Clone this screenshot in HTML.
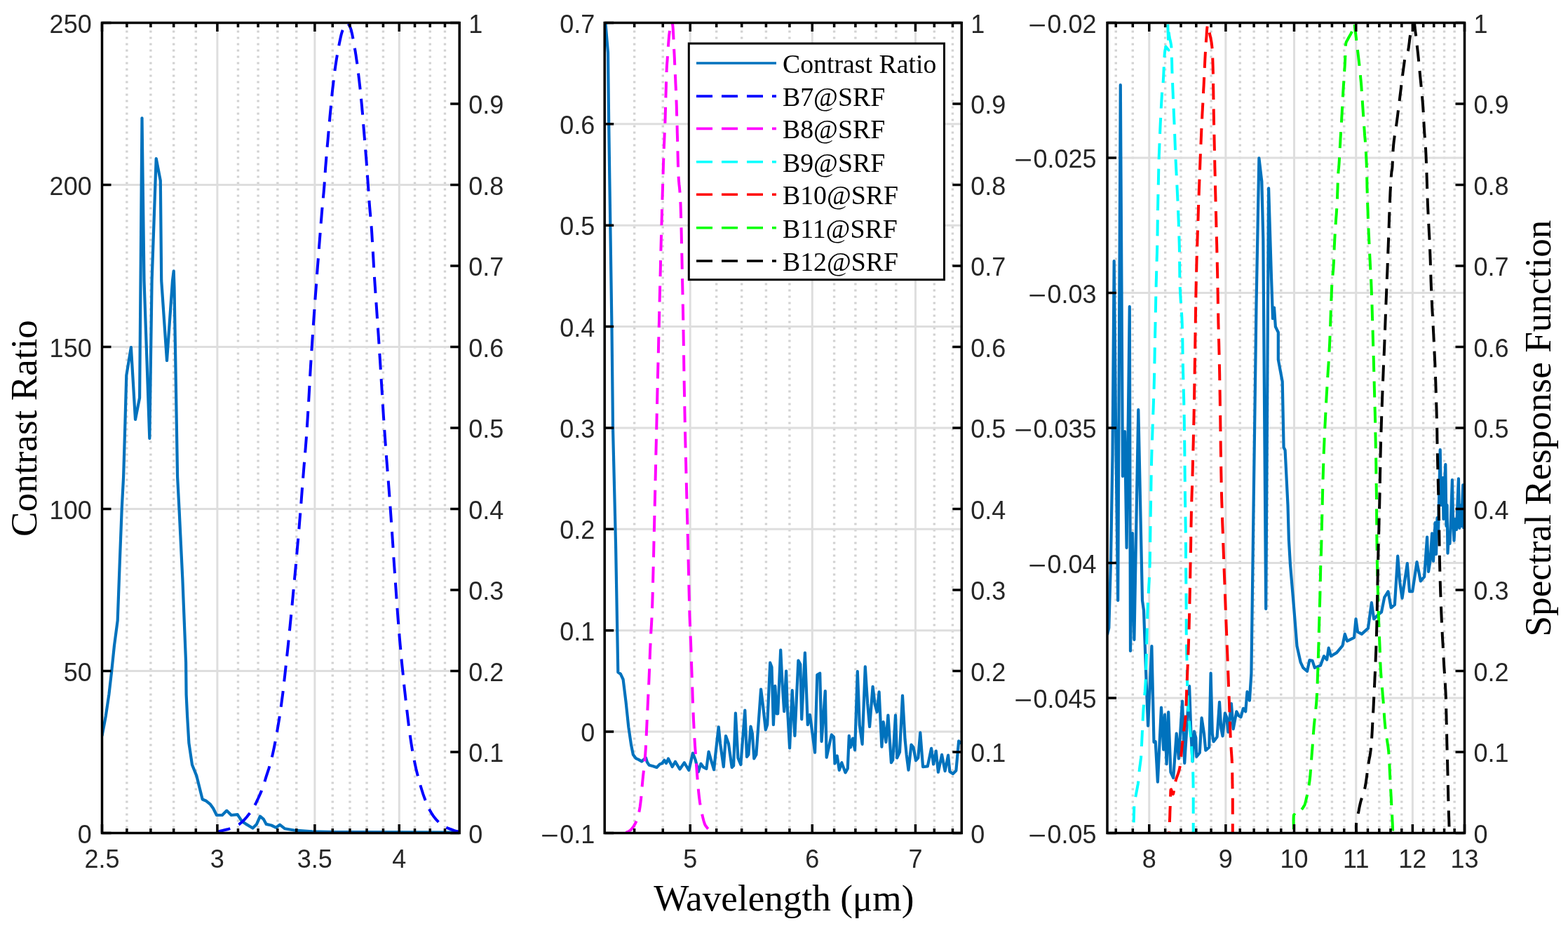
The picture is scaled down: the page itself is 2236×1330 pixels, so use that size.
<!DOCTYPE html>
<html><head><meta charset="utf-8"><title>Contrast Ratio and SRF</title>
<style>html,body{margin:0;padding:0;background:#fff;} body{width:2236px;height:1330px;overflow:hidden;} svg{display:block;}</style>
</head><body>
<svg width="2236" height="1330" viewBox="0 0 2236 1330">
<rect width="100%" height="100%" fill="#fff"/>
<path d="M180.86 32.50V1187.50M214.89 32.50V1187.50M247.68 32.50V1187.50M279.32 32.50V1187.50M339.45 32.50V1187.50M368.07 32.50V1187.50M395.82 32.50V1187.50M422.74 32.50V1187.50M474.27 32.50V1187.50M498.97 32.50V1187.50M523.02 32.50V1187.50M546.44 32.50V1187.50M591.53 32.50V1187.50M613.26 32.50V1187.50M634.47 32.50V1187.50" stroke="#d2d2d2" stroke-width="3.4" stroke-dasharray="3 6" stroke-dashoffset="6.9" fill="none"/>
<path d="M309.89 32.50V1187.50M448.87 32.50V1187.50M569.27 32.50V1187.50M145.50 956.50H655.20M145.50 725.50H655.20M145.50 494.50H655.20M145.50 263.50H655.20" stroke="#dedede" stroke-width="3" fill="none"/>
<clipPath id="cp0"><rect x="145.50" y="32.50" width="509.70" height="1155.00"/></clipPath>
<g id="curves0" fill="none" stroke-linejoin="round" clip-path="url(#cp0)">
<path d="M145.5 1049.0 L150.8 1020.8 L155.4 990.0 L159.2 956.7 L163.0 920.0 L167.7 884.5 L170.8 800.3 L173.7 725.7 L176.1 680.0 L178.5 600.0 L180.3 535.0 L186.9 495.0 L193.0 598.0 L199.1 567.0 L202.5 168.3 L205.5 400.0 L213.3 625.0 L216.6 400.0 L222.7 226.0 L228.8 257.5 L230.2 400.0 L238.0 514.0 L246.0 400.0 L247.7 386.3 L248.5 410.0 L253.1 680.0 L255.5 725.7 L260.3 824.4 L265.1 944.7 L265.6 990.0 L267.1 1020.8 L269.4 1059.3 L274.0 1090.2 L280.2 1105.6 L288.7 1139.5 L294.1 1141.8 L300.0 1146.7 L304.0 1152.3 L308.9 1162.0 L316.9 1162.0 L323.3 1155.6 L329.8 1162.0 L338.6 1161.2 L345.1 1170.9 L349.9 1174.1 L360.4 1180.5 L366.0 1174.9 L370.9 1163.6 L375.7 1167.6 L379.7 1174.9 L387.0 1176.5 L393.4 1179.7 L399.0 1175.7 L406.3 1181.3 L420.8 1183.7 L444.9 1185.3 L480.0 1186.1 L655.0 1186.6" stroke="#0072bd" stroke-width="4.2"/>
<path d="M310.5 1185.5 L312.9 1185.0 L316.2 1184.2 L320.1 1183.3 L324.2 1182.3 L328.1 1181.2 L331.4 1180.1 L334.1 1179.0 L336.5 1177.8 L338.8 1176.5 L340.9 1175.1 L342.9 1173.5 L345.1 1171.7 L347.4 1169.6 L349.7 1167.1 L352.0 1164.5 L354.1 1161.8 L356.2 1159.2 L358.0 1156.8 L359.5 1154.7 L360.8 1152.7 L361.9 1150.8 L362.9 1148.9 L364.0 1146.8 L365.2 1144.3 L366.6 1141.3 L368.2 1138.0 L369.8 1134.5 L371.4 1130.9 L372.8 1127.6 L374.0 1124.6 L374.9 1122.4 L375.5 1120.8 L375.9 1119.5 L376.4 1117.8 L377.1 1115.5 L378.1 1112.0 L379.5 1107.4 L381.2 1102.1 L383.2 1096.1 L385.2 1089.4 L387.2 1082.0 L389.1 1073.9 L391.0 1065.0 L392.9 1055.3 L394.8 1045.0 L396.6 1034.1 L398.5 1022.8 L400.2 1011.3 L401.8 999.6 L403.4 987.5 L404.8 975.0 L406.3 962.1 L407.7 948.9 L409.2 935.3 L410.7 921.2 L412.2 906.5 L413.7 891.4 L415.2 876.2 L416.7 861.0 L418.1 845.9 L419.5 830.7 L421.0 815.3 L422.4 799.8 L423.7 784.6 L425.0 770.1 L426.2 756.5 L427.2 744.2 L428.1 732.9 L429.0 722.3 L429.8 711.9 L430.6 701.0 L431.5 689.4 L432.5 677.1 L433.5 664.7 L434.6 651.9 L435.7 638.7 L436.8 624.7 L437.8 610.0 L438.8 594.0 L439.9 576.7 L440.9 558.7 L441.9 540.7 L442.9 523.4 L443.9 507.2 L444.9 492.5 L445.8 478.7 L446.7 465.6 L447.6 452.6 L448.5 439.6 L449.5 426.0 L450.6 411.4 L451.7 395.8 L452.9 380.1 L454.1 365.1 L455.1 351.5 L456.0 340.0 L456.7 331.2 L457.2 324.5 L457.6 319.2 L458.0 314.6 L458.4 309.9 L458.8 304.6 L459.3 298.6 L459.9 292.6 L460.5 286.6 L461.0 280.6 L461.6 274.5 L462.1 268.5 L462.6 262.5 L463.0 256.5 L463.4 250.5 L463.8 244.5 L464.2 238.5 L464.7 232.5 L465.2 226.5 L465.7 220.5 L466.2 214.5 L466.7 208.5 L467.3 202.4 L467.8 196.4 L468.3 190.3 L468.9 184.2 L469.4 178.1 L470.0 171.9 L470.5 165.8 L471.1 159.7 L471.7 153.6 L472.2 147.6 L472.8 141.6 L473.4 135.6 L474.0 129.6 L474.7 123.6 L475.4 117.6 L476.1 111.7 L476.8 105.8 L477.6 99.9 L478.4 94.0 L479.3 88.0 L480.3 81.8 L481.4 75.2 L482.6 68.7 L483.8 62.4 L485.0 56.7 L486.0 52.0 L486.9 48.3 L487.8 45.4 L488.7 43.0 L489.5 41.2 L490.3 39.5 L491.0 38.0 L491.7 36.6 L492.4 35.4 L493.0 34.5 L493.6 33.8 L494.2 33.4 L494.8 33.2 L495.4 33.2 L496.1 33.6 L496.7 34.1 L497.3 34.9 L497.9 35.9 L498.5 37.0 L499.1 38.2 L499.6 39.4 L500.1 40.8 L500.7 42.6 L501.3 45.0 L502.0 48.0 L502.8 51.9 L503.7 56.5 L504.7 61.7 L505.6 67.2 L506.6 72.9 L507.5 78.5 L508.3 84.2 L509.2 90.1 L510.0 96.2 L510.7 102.3 L511.5 108.5 L512.2 114.6 L512.9 120.7 L513.6 126.7 L514.2 132.8 L514.8 138.9 L515.4 144.9 L516.0 151.0 L516.5 157.0 L517.1 163.0 L517.5 169.0 L518.0 175.0 L518.5 181.0 L519.0 187.0 L519.5 193.1 L520.0 199.2 L520.5 205.2 L521.0 211.3 L521.5 217.4 L522.0 223.5 L522.5 229.5 L522.9 235.5 L523.3 241.5 L523.8 247.5 L524.2 253.5 L524.6 259.5 L525.0 265.5 L525.5 271.5 L525.9 277.5 L526.3 283.5 L526.7 289.5 L527.2 295.6 L527.7 301.5 L528.2 307.1 L528.7 312.7 L529.2 318.7 L529.8 325.4 L530.3 333.0 L530.8 341.5 L531.4 350.4 L531.9 360.1 L532.5 370.6 L533.1 382.0 L533.9 394.4 L534.8 407.9 L535.8 422.5 L536.9 438.0 L538.0 454.3 L539.2 471.4 L540.4 489.2 L541.6 508.2 L542.9 528.4 L544.2 549.5 L545.5 570.7 L546.8 591.8 L548.2 612.0 L549.6 631.6 L551.0 651.0 L552.5 670.1 L554.0 688.9 L555.4 707.3 L556.7 725.2 L557.9 742.5 L559.1 759.4 L560.2 775.8 L561.2 791.9 L562.3 807.8 L563.4 823.5 L564.5 838.9 L565.5 854.0 L566.6 868.8 L567.7 883.5 L568.9 898.2 L570.1 913.0 L571.5 928.2 L572.9 943.6 L574.5 959.1 L576.0 974.3 L577.6 988.8 L579.1 1002.4 L580.6 1015.1 L582.0 1027.0 L583.4 1038.4 L584.9 1049.2 L586.4 1059.5 L588.0 1069.4 L589.7 1078.8 L591.5 1087.6 L593.3 1096.0 L595.2 1103.8 L597.2 1111.4 L599.2 1118.6 L601.3 1125.5 L603.4 1132.1 L605.6 1138.3 L607.9 1144.1 L610.2 1149.5 L612.6 1154.4 L615.1 1158.8 L617.6 1162.7 L620.2 1166.1 L622.8 1169.2 L625.5 1172.0 L628.3 1174.5 L631.2 1176.7 L634.4 1178.5 L637.6 1180.1 L640.8 1181.3 L643.6 1182.4 L646.1 1183.4 L648.2 1184.2 L650.1 1184.7 L651.7 1185.1 L653.0 1185.3 L654.1 1185.5 L655.0 1185.7" stroke="#0000ff" stroke-width="4.0" stroke-dasharray="23.0 13.4" stroke-dashoffset="4.7"/>
</g>
<path d="M145.50 1187.50V1175.00M145.50 32.50V45.00M309.89 1187.50V1175.00M309.89 32.50V45.00M448.87 1187.50V1175.00M448.87 32.50V45.00M569.27 1187.50V1175.00M569.27 32.50V45.00M180.86 1187.50V1181.00M180.86 32.50V39.00M214.89 1187.50V1181.00M214.89 32.50V39.00M247.68 1187.50V1181.00M247.68 32.50V39.00M279.32 1187.50V1181.00M279.32 32.50V39.00M339.45 1187.50V1181.00M339.45 32.50V39.00M368.07 1187.50V1181.00M368.07 32.50V39.00M395.82 1187.50V1181.00M395.82 32.50V39.00M422.74 1187.50V1181.00M422.74 32.50V39.00M474.27 1187.50V1181.00M474.27 32.50V39.00M498.97 1187.50V1181.00M498.97 32.50V39.00M523.02 1187.50V1181.00M523.02 32.50V39.00M546.44 1187.50V1181.00M546.44 32.50V39.00M591.53 1187.50V1181.00M591.53 32.50V39.00M613.26 1187.50V1181.00M613.26 32.50V39.00M634.47 1187.50V1181.00M634.47 32.50V39.00M145.50 1187.50H158.50M145.50 956.50H158.50M145.50 725.50H158.50M145.50 494.50H158.50M145.50 263.50H158.50M145.50 32.50H158.50M655.20 1187.50H642.20M655.20 1072.00H642.20M655.20 956.50H642.20M655.20 841.00H642.20M655.20 725.50H642.20M655.20 610.00H642.20M655.20 494.50H642.20M655.20 379.00H642.20M655.20 263.50H642.20M655.20 148.00H642.20M655.20 32.50H642.20" stroke="#000" stroke-width="3.5" fill="none"/>
<rect x="145.50" y="32.50" width="509.70" height="1155.00" stroke="#000" stroke-width="3.5" fill="none"/>
<g font-family="'Liberation Sans', Arial, sans-serif" font-size="36" fill="#262626">
<text x="130.70" y="1201.50" text-anchor="end">0</text>
<text x="130.70" y="970.50" text-anchor="end">50</text>
<text x="130.70" y="739.50" text-anchor="end">100</text>
<text x="130.70" y="508.50" text-anchor="end">150</text>
<text x="130.70" y="277.50" text-anchor="end">200</text>
<text x="130.70" y="46.50" text-anchor="end">250</text>
<text x="668.20" y="1201.70">0</text>
<text x="668.20" y="1086.20">0.1</text>
<text x="668.20" y="970.70">0.2</text>
<text x="668.20" y="855.20">0.3</text>
<text x="668.20" y="739.70">0.4</text>
<text x="668.20" y="624.20">0.5</text>
<text x="668.20" y="508.70">0.6</text>
<text x="668.20" y="393.20">0.7</text>
<text x="668.20" y="277.70">0.8</text>
<text x="668.20" y="162.20">0.9</text>
<text x="668.20" y="46.70">1</text>
<text x="145.50" y="1237" text-anchor="middle">2.5</text>
<text x="309.89" y="1237" text-anchor="middle">3</text>
<text x="448.87" y="1237" text-anchor="middle">3.5</text>
<text x="569.27" y="1237" text-anchor="middle">4</text>
</g>
<path d="M904.63 32.50V1187.50M945.26 32.50V1187.50M1021.67 32.50V1187.50M1057.70 32.50V1187.50M1092.42 32.50V1187.50M1125.92 32.50V1187.50M1189.58 32.50V1187.50M1219.89 32.50V1187.50M1249.27 32.50V1187.50M1277.77 32.50V1187.50M1332.33 32.50V1187.50M1358.49 32.50V1187.50" stroke="#d2d2d2" stroke-width="3.4" stroke-dasharray="3 6" stroke-dashoffset="6.9" fill="none"/>
<path d="M984.23 32.50V1187.50M1158.28 32.50V1187.50M1305.44 32.50V1187.50M862.20 1043.12H1371.30M862.20 898.75H1371.30M862.20 754.37H1371.30M862.20 610.00H1371.30M862.20 465.62H1371.30M862.20 321.25H1371.30M862.20 176.87H1371.30" stroke="#dedede" stroke-width="3" fill="none"/>
<clipPath id="cp1"><rect x="862.20" y="32.50" width="509.10" height="1155.00"/></clipPath>
<g id="curves1" fill="none" stroke-linejoin="round" clip-path="url(#cp1)">
<path d="M863.4 32.5 L867.0 75.3 L868.2 176.4 L869.4 260.6 L870.6 340.0 L872.5 470.0 L874.0 610.0 L878.1 779.1 L881.3 958.2 L885.0 960.8 L888.6 968.5 L892.6 1001.0 L896.3 1036.3 L900.0 1061.5 L902.9 1075.8 L906.5 1080.8 L910.8 1082.9 L915.1 1085.4 L917.9 1082.9 L920.8 1080.0 L922.9 1086.5 L925.8 1090.8 L931.5 1092.2 L936.5 1094.0 L940.8 1089.4 L944.4 1088.0 L947.3 1083.6 L950.1 1088.0 L953.0 1081.5 L958.7 1093.0 L963.0 1085.8 L969.4 1096.5 L975.9 1087.2 L982.3 1098.0 L988.0 1073.6 L991.6 1082.9 L995.9 1100.1 L999.5 1088.7 L1003.1 1093.7 L1007.4 1095.8 L1010.6 1071.5 L1013.8 1082.9 L1018.1 1097.2 L1020.3 1075.8 L1024.7 1036.3 L1027.1 1060.0 L1031.8 1093.2 L1035.0 1049.0 L1038.9 1060.0 L1043.7 1094.0 L1046.1 1091.6 L1048.9 1016.6 L1052.4 1080.5 L1056.3 1090.0 L1062.3 1012.6 L1065.0 1079.0 L1067.4 1075.8 L1070.5 1035.5 L1072.9 1045.8 L1075.3 1081.3 L1078.4 1075.8 L1085.1 982.6 L1087.9 1004.7 L1091.8 1040.3 L1094.2 1033.2 L1098.2 944.7 L1100.5 951.0 L1102.9 1033.2 L1105.3 977.9 L1107.6 1017.4 L1109.2 1017.4 L1113.2 926.6 L1115.5 973.2 L1118.2 1014.2 L1121.1 956.6 L1122.6 1004.7 L1126.1 1066.3 L1129.7 984.2 L1133.4 1049.0 L1138.4 941.6 L1141.3 947.1 L1143.2 1025.3 L1147.9 930.5 L1151.8 1033.2 L1155.0 1019.0 L1162.1 1072.6 L1165.3 962.1 L1169.2 959.7 L1171.6 1056.9 L1176.8 985.0 L1178.7 1079.7 L1185.8 1047.4 L1189.0 1050.5 L1190.5 1088.4 L1193.7 1077.4 L1196.8 1097.9 L1200.3 1087.1 L1205.5 1101.4 L1208.8 1095.4 L1210.8 1048.8 L1213.0 1065.3 L1216.1 1052.6 L1219.1 1069.1 L1222.8 957.1 L1225.8 1033.8 L1229.6 1060.8 L1233.8 950.3 L1237.1 1002.2 L1240.1 1036.0 L1244.6 978.9 L1247.6 1003.7 L1250.6 1015.0 L1253.6 986.4 L1257.4 1064.6 L1259.7 1029.2 L1263.4 1057.8 L1266.4 1019.5 L1270.9 1087.1 L1273.2 1083.4 L1277.0 1019.5 L1279.2 1080.4 L1283.0 1072.1 L1287.0 991.7 L1290.5 1053.3 L1292.7 1075.9 L1295.5 1097.7 L1299.5 1061.6 L1302.5 1065.3 L1306.0 1084.1 L1309.3 1080.4 L1312.3 1044.3 L1316.1 1093.2 L1322.8 1092.4 L1328.1 1066.8 L1331.1 1089.4 L1334.8 1070.6 L1337.9 1100.7 L1343.1 1075.9 L1347.6 1099.2 L1352.1 1076.6 L1354.4 1099.9 L1358.9 1102.9 L1363.4 1098.4 L1367.2 1056.3 L1370.5 1060.0" stroke="#0072bd" stroke-width="4.2"/>
<path d="M892.6 1187.0 L893.4 1186.6 L894.5 1186.1 L895.9 1185.5 L897.3 1184.7 L898.8 1183.7 L900.1 1182.4 L901.4 1180.8 L902.7 1179.1 L904.1 1177.1 L905.4 1174.8 L906.6 1172.4 L907.7 1169.8 L908.7 1167.1 L909.6 1164.3 L910.4 1161.3 L911.2 1158.0 L912.0 1154.2 L912.7 1149.7 L913.4 1144.4 L914.1 1138.4 L914.7 1131.9 L915.3 1125.2 L915.9 1118.4 L916.5 1111.9 L917.1 1105.8 L917.8 1099.8 L918.5 1093.8 L919.1 1087.6 L919.7 1081.1 L920.3 1074.1 L920.8 1066.6 L921.2 1058.7 L921.6 1050.5 L922.0 1041.9 L922.4 1033.0 L922.8 1023.7 L923.3 1013.8 L923.8 1003.2 L924.3 992.2 L924.9 981.3 L925.4 970.7 L925.8 960.8 L926.2 951.7 L926.5 943.1 L926.8 934.8 L927.1 926.7 L927.5 918.7 L927.8 910.4 L928.2 902.9 L928.6 896.5 L929.0 890.2 L929.4 882.7 L929.8 873.0 L930.3 860.0 L930.8 842.9 L931.3 822.3 L931.9 799.5 L932.4 775.7 L933.0 752.1 L933.5 730.0 L934.0 708.9 L934.5 687.6 L935.0 666.6 L935.4 646.1 L935.9 626.5 L936.3 608.0 L936.7 590.9 L937.1 575.1 L937.4 560.1 L937.8 545.6 L938.1 531.1 L938.5 516.2 L938.9 501.1 L939.2 486.0 L939.6 471.0 L940.0 456.0 L940.3 441.0 L940.7 426.0 L941.1 410.8 L941.5 395.4 L941.9 380.0 L942.2 364.8 L942.6 350.0 L943.0 335.8 L943.4 322.0 L943.8 308.5 L944.1 295.3 L944.5 282.7 L944.9 270.9 L945.2 260.0 L945.5 250.2 L945.8 241.3 L946.0 233.2 L946.3 225.7 L946.5 218.5 L946.8 211.4 L947.1 204.7 L947.4 198.5 L947.6 192.6 L947.9 186.9 L948.2 181.1 L948.4 175.0 L948.6 168.6 L948.8 161.9 L949.0 155.2 L949.1 148.5 L949.3 141.9 L949.5 135.6 L949.7 129.4 L949.9 123.1 L950.0 117.0 L950.2 111.2 L950.4 105.7 L950.6 100.8 L950.8 96.6 L951.0 93.2 L951.2 90.1 L951.5 87.1 L951.7 83.8 L952.0 80.0 L952.3 75.4 L952.6 70.2 L953.0 64.7 L953.4 59.3 L953.8 54.3 L954.2 50.0 L954.7 46.2 L955.3 42.7 L955.9 39.6 L956.5 36.9 L957.1 34.9 L957.6 33.5 L958.0 32.7 L958.4 32.3 L958.6 32.6 L958.9 33.5 L959.2 35.3 L959.5 38.0 L959.8 42.0 L960.1 47.2 L960.4 53.3 L960.7 59.8 L961.0 66.3 L961.3 72.4 L961.6 78.2 L961.9 83.9 L962.1 89.6 L962.4 95.4 L962.6 101.2 L962.9 107.1 L963.2 112.8 L963.4 118.4 L963.7 124.0 L964.0 129.9 L964.2 136.3 L964.5 143.5 L964.8 151.7 L965.0 160.7 L965.3 170.2 L965.6 180.0 L965.8 189.6 L966.1 198.8 L966.3 207.7 L966.5 216.6 L966.7 225.3 L966.9 233.9 L967.2 242.1 L967.5 250.0 L967.9 256.8 L968.4 262.5 L969.0 267.9 L969.5 273.9 L970.0 281.2 L970.5 290.7 L970.9 302.9 L971.3 317.1 L971.7 332.7 L972.0 349.0 L972.4 365.3 L972.7 380.9 L973.0 395.5 L973.3 409.5 L973.6 423.6 L973.9 438.2 L974.2 453.8 L974.5 471.1 L974.8 489.8 L975.1 509.3 L975.4 530.0 L975.8 551.9 L976.2 575.2 L976.7 600.0 L977.3 628.0 L978.1 659.3 L978.9 692.0 L979.7 724.2 L980.5 753.8 L981.1 779.0 L981.6 799.4 L982.0 816.5 L982.3 831.0 L982.6 843.9 L982.9 855.8 L983.2 867.6 L983.5 878.8 L983.9 888.7 L984.3 897.7 L984.6 906.1 L985.0 914.4 L985.3 923.0 L985.6 931.5 L985.9 939.7 L986.1 947.7 L986.4 955.9 L986.7 964.3 L987.0 973.4 L987.4 983.3 L987.7 993.9 L988.1 1004.9 L988.6 1015.8 L989.0 1026.4 L989.5 1036.3 L990.0 1045.4 L990.5 1054.0 L991.0 1062.3 L991.6 1070.4 L992.2 1078.4 L992.8 1086.7 L993.4 1095.3 L994.1 1104.2 L994.8 1113.0 L995.5 1121.6 L996.3 1129.7 L997.1 1137.1 L998.0 1143.8 L999.1 1150.2 L1000.2 1156.0 L1001.3 1161.2 L1002.4 1165.9 L1003.4 1169.8 L1004.3 1172.8 L1005.1 1175.0 L1005.9 1176.6 L1006.7 1177.7 L1007.5 1178.8 L1008.4 1179.9 L1009.4 1181.1 L1010.4 1182.2 L1011.5 1183.1 L1012.5 1183.9 L1013.4 1184.5 L1014.0 1185.0" stroke="#ff00ff" stroke-width="4.0" stroke-dasharray="23.0 13.4" stroke-dashoffset="36.39"/>
</g>
<path d="M984.23 1187.50V1175.00M984.23 32.50V45.00M1158.28 1187.50V1175.00M1158.28 32.50V45.00M1305.44 1187.50V1175.00M1305.44 32.50V45.00M904.63 1187.50V1181.00M904.63 32.50V39.00M945.26 1187.50V1181.00M945.26 32.50V39.00M1021.67 1187.50V1181.00M1021.67 32.50V39.00M1057.70 1187.50V1181.00M1057.70 32.50V39.00M1092.42 1187.50V1181.00M1092.42 32.50V39.00M1125.92 1187.50V1181.00M1125.92 32.50V39.00M1189.58 1187.50V1181.00M1189.58 32.50V39.00M1219.89 1187.50V1181.00M1219.89 32.50V39.00M1249.27 1187.50V1181.00M1249.27 32.50V39.00M1277.77 1187.50V1181.00M1277.77 32.50V39.00M1332.33 1187.50V1181.00M1332.33 32.50V39.00M1358.49 1187.50V1181.00M1358.49 32.50V39.00M862.20 1187.50H875.20M862.20 1043.12H875.20M862.20 898.75H875.20M862.20 754.37H875.20M862.20 610.00H875.20M862.20 465.62H875.20M862.20 321.25H875.20M862.20 176.87H875.20M862.20 32.50H875.20M1371.30 1187.50H1358.30M1371.30 1072.00H1358.30M1371.30 956.50H1358.30M1371.30 841.00H1358.30M1371.30 725.50H1358.30M1371.30 610.00H1358.30M1371.30 494.50H1358.30M1371.30 379.00H1358.30M1371.30 263.50H1358.30M1371.30 148.00H1358.30M1371.30 32.50H1358.30" stroke="#000" stroke-width="3.5" fill="none"/>
<rect x="862.20" y="32.50" width="509.10" height="1155.00" stroke="#000" stroke-width="3.5" fill="none"/>
<g font-family="'Liberation Sans', Arial, sans-serif" font-size="36" fill="#262626">
<text x="848.20" y="1201.50" text-anchor="end">0.1</text>
<text transform="translate(770.95 1202.80) scale(1.23 1)">−</text>
<text x="848.20" y="1057.12" text-anchor="end">0</text>
<text x="848.20" y="912.75" text-anchor="end">0.1</text>
<text x="848.20" y="768.37" text-anchor="end">0.2</text>
<text x="848.20" y="624.00" text-anchor="end">0.3</text>
<text x="848.20" y="479.62" text-anchor="end">0.4</text>
<text x="848.20" y="335.25" text-anchor="end">0.5</text>
<text x="848.20" y="190.87" text-anchor="end">0.6</text>
<text x="848.20" y="46.50" text-anchor="end">0.7</text>
<text x="1384.30" y="1201.70">0</text>
<text x="1384.30" y="1086.20">0.1</text>
<text x="1384.30" y="970.70">0.2</text>
<text x="1384.30" y="855.20">0.3</text>
<text x="1384.30" y="739.70">0.4</text>
<text x="1384.30" y="624.20">0.5</text>
<text x="1384.30" y="508.70">0.6</text>
<text x="1384.30" y="393.20">0.7</text>
<text x="1384.30" y="277.70">0.8</text>
<text x="1384.30" y="162.20">0.9</text>
<text x="1384.30" y="46.70">1</text>
<text x="984.23" y="1237" text-anchor="middle">5</text>
<text x="1158.28" y="1237" text-anchor="middle">6</text>
<text x="1305.44" y="1237" text-anchor="middle">7</text>
</g>
<path d="M1591.27 32.50V1187.50M1615.33 32.50V1187.50M1661.65 32.50V1187.50M1683.97 32.50V1187.50M1705.77 32.50V1187.50M1727.07 32.50V1187.50M1768.24 32.50V1187.50M1788.16 32.50V1187.50M1807.66 32.50V1187.50M1826.76 32.50V1187.50M1863.82 32.50V1187.50M1881.81 32.50V1187.50M1899.45 32.50V1187.50M1916.76 32.50V1187.50M1950.45 32.50V1187.50M1966.85 32.50V1187.50M1982.96 32.50V1187.50M1998.79 32.50V1187.50M2029.67 32.50V1187.50M2044.73 32.50V1187.50M2059.55 32.50V1187.50M2074.14 32.50V1187.50" stroke="#d2d2d2" stroke-width="3.4" stroke-dasharray="3 6" stroke-dashoffset="6.9" fill="none"/>
<path d="M1638.78 32.50V1187.50M1747.88 32.50V1187.50M1845.48 32.50V1187.50M1933.76 32.50V1187.50M2014.36 32.50V1187.50M1579.00 995.00H2088.50M1579.00 802.50H2088.50M1579.00 610.00H2088.50M1579.00 417.50H2088.50M1579.00 225.00H2088.50" stroke="#dedede" stroke-width="3" fill="none"/>
<clipPath id="cp2"><rect x="1579.00" y="32.50" width="509.50" height="1155.00"/></clipPath>
<g id="curves2" fill="none" stroke-linejoin="round" clip-path="url(#cp2)">
<path d="M1579.0 905.0 L1581.3 895.0 L1584.0 800.0 L1586.5 650.0 L1588.7 372.0 L1591.0 600.0 L1594.2 856.0 L1597.8 121.0 L1601.0 679.0 L1604.0 615.0 L1606.6 781.0 L1610.8 437.0 L1612.0 928.0 L1615.0 760.0 L1617.4 912.0 L1623.3 584.0 L1629.0 856.0 L1631.0 870.0 L1634.0 954.7 L1637.1 1034.7 L1642.4 921.0 L1645.5 1057.9 L1647.7 1057.1 L1650.9 1114.6 L1656.0 1008.6 L1659.2 1068.6 L1661.1 1018.8 L1663.6 1089.1 L1666.2 1015.0 L1669.4 1100.6 L1673.2 1108.9 L1677.7 1045.6 L1680.9 1081.4 L1686.0 999.6 L1689.2 1087.8 L1696.1 978.2 L1698.4 1045.9 L1700.6 1085.4 L1702.9 1042.5 L1705.2 1051.5 L1706.3 1078.6 L1710.8 1073.0 L1713.6 1023.3 L1717.0 1045.9 L1719.3 1069.6 L1724.3 1065.1 L1726.6 959.6 L1728.8 1045.9 L1730.5 1057.2 L1735.6 1050.4 L1739.0 1000.8 L1741.3 1038.0 L1743.5 1049.3 L1746.9 1016.6 L1749.2 1022.2 L1751.4 1043.6 L1755.9 1003.0 L1758.7 1039.1 L1763.3 1014.3 L1766.1 1020.0 L1769.5 1022.2 L1772.9 1009.8 L1776.2 1014.3 L1778.5 986.1 L1781.9 998.5 L1784.4 960.0 L1787.6 720.0 L1791.5 434.6 L1795.4 225.4 L1799.3 258.6 L1801.3 340.7 L1805.2 868.0 L1809.1 268.4 L1813.0 395.5 L1815.0 454.1 L1817.0 438.5 L1818.9 465.8 L1822.8 473.7 L1822.8 512.7 L1828.7 544.0 L1830.6 637.8 L1832.6 641.8 L1836.5 720.0 L1837.9 769.5 L1840.0 805.3 L1845.3 868.4 L1849.5 921.0 L1854.7 944.2 L1858.3 951.9 L1864.1 956.8 L1867.4 941.1 L1871.5 941.9 L1874.8 951.9 L1883.1 948.6 L1888.0 935.3 L1892.2 940.3 L1894.7 923.7 L1898.0 935.3 L1906.2 930.4 L1914.5 920.4 L1917.8 903.9 L1921.1 913.8 L1931.0 908.9 L1933.5 882.4 L1936.0 900.6 L1941.8 903.9 L1950.9 895.6 L1955.9 859.2 L1959.2 882.4 L1965.8 875.8 L1970.0 872.6 L1974.2 851.6 L1979.5 843.2 L1983.7 866.3 L1988.9 862.1 L1993.2 792.6 L1996.3 830.5 L1999.5 852.6 L2006.8 803.2 L2010.0 843.2 L2014.2 843.2 L2020.5 801.1 L2025.8 828.4 L2031.1 822.1 L2035.1 765.5 L2037.0 815.0 L2039.5 800.0 L2042.1 760.4 L2044.0 800.0 L2046.6 745.0 L2048.0 790.0 L2049.5 738.0 L2051.0 760.0 L2053.7 641.0 L2055.0 720.0 L2056.0 690.0 L2057.5 681.0 L2058.5 740.0 L2059.5 700.0 L2061.3 662.0 L2062.5 750.0 L2063.5 720.0 L2064.5 788.6 L2066.0 760.0 L2067.5 775.0 L2069.0 740.0 L2070.9 684.0 L2072.0 740.0 L2073.5 770.7 L2075.0 740.0 L2077.0 755.0 L2079.9 682.4 L2081.2 752.8 L2082.5 720.0 L2084.0 750.0 L2086.3 691.4 L2087.5 754.0" stroke="#0072bd" stroke-width="4.2"/>
<path d="M1616.2 1186.0 L1616.3 1184.1 L1616.3 1181.5 L1616.5 1178.4 L1616.6 1175.0 L1616.7 1171.6 L1616.8 1168.2 L1616.9 1164.8 L1617.0 1161.3 L1617.1 1157.6 L1617.2 1154.0 L1617.3 1150.5 L1617.6 1147.2 L1617.9 1144.2 L1618.3 1141.4 L1618.8 1138.8 L1619.3 1136.2 L1619.8 1133.6 L1620.3 1130.9 L1620.8 1128.2 L1621.3 1125.6 L1621.8 1122.9 L1622.3 1120.2 L1622.8 1117.5 L1623.2 1114.6 L1623.6 1111.6 L1623.9 1108.5 L1624.1 1105.4 L1624.4 1102.2 L1624.7 1099.0 L1625.0 1095.9 L1625.4 1092.8 L1625.8 1089.9 L1626.2 1086.9 L1626.6 1083.8 L1627.0 1080.7 L1627.3 1077.3 L1627.5 1073.9 L1627.7 1070.5 L1627.9 1067.1 L1628.0 1063.3 L1628.2 1058.9 L1628.4 1053.9 L1628.7 1048.0 L1629.0 1041.2 L1629.3 1034.0 L1629.7 1026.5 L1630.1 1019.0 L1630.5 1011.7 L1631.0 1005.0 L1631.5 998.8 L1632.1 992.6 L1632.7 986.0 L1633.2 978.4 L1633.7 969.6 L1634.1 958.7 L1634.5 946.0 L1634.9 932.4 L1635.2 918.8 L1635.5 906.4 L1635.8 895.9 L1636.0 887.8 L1636.2 881.2 L1636.3 875.7 L1636.5 870.7 L1636.7 865.7 L1636.9 860.0 L1637.2 853.8 L1637.6 847.4 L1638.0 841.0 L1638.3 834.6 L1638.7 828.3 L1639.0 822.1 L1639.2 816.9 L1639.4 813.0 L1639.5 809.1 L1639.7 804.1 L1639.8 796.9 L1640.0 786.3 L1640.2 771.0 L1640.5 751.6 L1640.8 730.0 L1641.2 708.1 L1641.5 687.7 L1641.8 670.7 L1642.1 657.5 L1642.4 646.5 L1642.7 637.1 L1643.0 628.5 L1643.3 619.9 L1643.6 610.5 L1643.9 600.6 L1644.3 591.0 L1644.7 581.4 L1645.0 571.5 L1645.4 561.3 L1645.7 550.4 L1646.0 538.7 L1646.2 526.3 L1646.5 513.4 L1646.7 500.5 L1647.0 487.6 L1647.2 475.2 L1647.5 463.0 L1647.7 450.8 L1648.0 438.8 L1648.2 427.0 L1648.5 415.7 L1648.7 405.0 L1649.0 395.1 L1649.2 386.0 L1649.5 377.3 L1649.7 368.7 L1650.0 360.0 L1650.2 350.8 L1650.4 341.1 L1650.6 331.2 L1650.7 321.1 L1650.9 311.0 L1651.0 300.8 L1651.2 290.7 L1651.4 280.5 L1651.6 270.1 L1651.9 259.7 L1652.1 249.4 L1652.3 239.7 L1652.6 230.5 L1652.8 222.2 L1653.1 214.6 L1653.4 207.4 L1653.7 200.4 L1654.0 193.2 L1654.3 185.4 L1654.7 176.7 L1655.2 167.3 L1655.6 157.7 L1656.1 148.4 L1656.6 140.1 L1657.0 133.3 L1657.3 128.5 L1657.7 125.4 L1658.0 123.3 L1658.2 121.4 L1658.5 119.0 L1658.8 115.3 L1659.1 110.1 L1659.4 103.8 L1659.7 96.9 L1660.0 90.2 L1660.3 84.1 L1660.6 79.2 L1660.9 75.6 L1661.2 72.7 L1661.6 70.5 L1661.9 68.8 L1662.1 67.4 L1662.3 66.3 L1666.6 71.5 L1665.2 33.5 L1665.4 35.5 L1665.8 38.4 L1666.2 41.8 L1666.6 45.4 L1667.1 48.9 L1667.5 52.0 L1668.0 54.5 L1668.5 56.6 L1669.0 58.7 L1669.5 61.0 L1670.0 63.8 L1670.4 67.5 L1670.7 72.3 L1670.9 77.9 L1671.0 84.1 L1671.2 90.5 L1671.3 97.0 L1671.5 103.2 L1671.7 109.2 L1671.9 115.2 L1672.2 121.2 L1672.4 127.2 L1672.7 133.3 L1672.9 139.3 L1673.2 145.1 L1673.4 150.6 L1673.7 156.2 L1673.9 162.0 L1674.2 168.3 L1674.5 175.4 L1674.8 183.4 L1675.2 192.2 L1675.5 201.4 L1675.9 211.1 L1676.3 220.8 L1676.7 230.5 L1677.2 240.2 L1677.7 250.2 L1678.2 260.3 L1678.7 270.4 L1679.2 280.6 L1679.7 290.7 L1680.1 300.7 L1680.5 310.8 L1680.9 320.9 L1681.2 330.9 L1681.5 340.9 L1681.8 350.8 L1682.0 360.7 L1682.1 370.6 L1682.2 380.5 L1682.3 390.2 L1682.4 399.7 L1682.7 409.0 L1683.1 417.8 L1683.6 426.3 L1684.2 434.5 L1684.8 442.7 L1685.3 451.2 L1685.7 460.2 L1686.0 469.7 L1686.2 479.6 L1686.4 489.7 L1686.5 499.9 L1686.7 510.2 L1686.9 520.3 L1687.1 530.3 L1687.4 540.4 L1687.7 550.4 L1687.9 560.4 L1688.2 570.5 L1688.4 580.5 L1688.6 590.5 L1688.8 600.5 L1688.9 610.5 L1689.0 620.6 L1689.2 630.6 L1689.3 640.6 L1689.4 650.6 L1689.5 660.7 L1689.6 670.7 L1689.7 680.7 L1689.8 690.8 L1689.9 700.8 L1690.0 710.8 L1690.2 720.8 L1690.4 730.8 L1690.5 740.8 L1690.7 750.8 L1690.8 760.9 L1690.9 771.3 L1691.0 781.9 L1691.0 792.6 L1691.1 803.1 L1691.1 813.0 L1691.2 822.1 L1691.3 830.2 L1691.3 837.6 L1691.4 844.4 L1691.5 850.9 L1691.5 857.5 L1691.6 864.3 L1691.6 871.3 L1691.7 878.3 L1691.7 885.4 L1691.7 892.4 L1691.7 899.4 L1691.8 906.4 L1691.9 913.3 L1692.0 919.9 L1692.2 926.6 L1692.3 933.5 L1692.5 940.7 L1692.7 948.5 L1692.8 957.0 L1693.0 966.0 L1693.1 975.3 L1693.3 984.9 L1693.6 994.5 L1694.0 1004.0 L1694.6 1013.6 L1695.4 1023.4 L1696.3 1033.3 L1697.2 1043.0 L1698.1 1052.3 L1698.8 1060.8 L1699.4 1068.5 L1699.8 1075.5 L1700.3 1082.0 L1700.6 1088.3 L1700.9 1094.7 L1701.2 1101.2 L1701.4 1108.0 L1701.5 1114.7 L1701.6 1121.5 L1701.6 1128.2 L1701.7 1135.0 L1701.7 1141.7 L1701.7 1148.8 L1701.7 1156.5 L1701.7 1164.1 L1701.7 1171.3 L1701.7 1177.4 L1701.7 1182.0 L1701.7 1184.8 L1701.6 1186.2 L1701.6 1186.5 L1701.6 1186.3 L1701.5 1186.0 L1701.5 1186.0" stroke="#00ffff" stroke-width="4.0" stroke-dasharray="23.0 13.4" stroke-dashoffset="22.77"/>
<path d="M1667.3 1186.0 L1667.3 1186.0 L1667.3 1186.2 L1667.3 1186.3 L1667.3 1185.9 L1667.4 1184.6 L1667.5 1182.0 L1667.7 1177.5 L1667.9 1171.4 L1668.2 1164.4 L1668.4 1157.2 L1668.7 1150.4 L1668.9 1144.9 L1669.0 1140.3 L1669.1 1136.2 L1669.2 1132.5 L1669.3 1129.4 L1669.4 1127.0 L1669.7 1125.5 L1670.1 1125.4 L1670.6 1126.7 L1671.1 1128.7 L1671.7 1130.7 L1672.3 1132.0 L1672.9 1132.0 L1673.4 1130.5 L1673.9 1128.0 L1674.3 1124.8 L1674.9 1121.3 L1675.5 1117.6 L1676.2 1114.2 L1677.1 1111.0 L1678.2 1107.9 L1679.4 1104.6 L1680.6 1101.2 L1681.7 1097.4 L1682.6 1093.2 L1683.3 1088.5 L1683.9 1083.5 L1684.3 1078.2 L1684.8 1072.6 L1685.3 1066.8 L1685.9 1060.8 L1686.7 1054.5 L1687.5 1047.9 L1688.4 1041.1 L1689.3 1034.2 L1690.1 1027.2 L1690.7 1020.4 L1691.1 1014.1 L1691.4 1008.4 L1691.6 1002.7 L1691.8 996.4 L1692.0 989.0 L1692.3 980.0 L1692.8 969.2 L1693.3 957.1 L1693.9 943.9 L1694.5 929.8 L1695.0 915.1 L1695.5 900.0 L1695.9 883.7 L1696.3 866.0 L1696.7 847.6 L1697.1 829.5 L1697.4 812.3 L1697.7 797.0 L1698.0 783.8 L1698.2 772.0 L1698.3 761.2 L1698.5 751.0 L1698.7 741.0 L1698.9 730.8 L1699.2 720.8 L1699.4 711.4 L1699.7 702.2 L1700.1 692.7 L1700.4 682.4 L1700.7 670.7 L1701.0 657.4 L1701.4 642.9 L1701.8 627.5 L1702.1 611.7 L1702.5 595.9 L1702.8 580.5 L1703.1 565.5 L1703.3 550.4 L1703.6 535.4 L1703.8 520.3 L1704.1 505.2 L1704.3 490.2 L1704.5 475.0 L1704.8 459.7 L1705.0 444.4 L1705.2 429.2 L1705.5 414.4 L1705.8 400.0 L1706.2 385.9 L1706.5 372.1 L1707.0 358.5 L1707.4 345.4 L1707.8 332.8 L1708.2 320.8 L1708.6 309.7 L1708.9 299.3 L1709.2 289.5 L1709.6 280.0 L1709.9 270.4 L1710.3 260.6 L1710.7 250.3 L1711.1 239.7 L1711.5 229.1 L1711.9 218.8 L1712.3 209.2 L1712.7 200.5 L1713.0 192.8 L1713.3 185.7 L1713.6 179.3 L1713.9 173.5 L1714.2 168.2 L1714.4 163.4 L1714.6 159.5 L1714.8 156.6 L1714.9 154.3 L1715.0 152.0 L1715.2 149.1 L1715.4 145.3 L1715.7 140.3 L1715.9 134.6 L1716.2 128.4 L1716.6 121.9 L1716.9 115.4 L1717.2 109.2 L1717.5 103.0 L1717.8 96.5 L1718.1 90.0 L1718.4 83.8 L1718.7 78.1 L1719.0 73.1 L1719.2 69.1 L1719.4 65.8 L1719.6 63.0 L1719.8 60.5 L1720.0 58.0 L1720.2 55.1 L1720.5 51.6 L1720.7 47.7 L1721.0 43.7 L1721.3 40.1 L1721.7 37.4 L1722.0 35.8 L1722.3 35.6 L1722.7 36.6 L1723.1 38.3 L1723.5 40.6 L1723.9 43.1 L1724.4 45.5 L1725.0 47.9 L1725.6 50.6 L1726.3 53.5 L1726.9 56.6 L1727.5 59.9 L1728.0 63.5 L1728.4 67.2 L1728.7 71.0 L1728.9 74.9 L1729.1 79.3 L1729.3 84.3 L1729.5 90.0 L1729.7 96.8 L1729.9 104.5 L1730.0 112.8 L1730.1 121.3 L1730.3 129.5 L1730.4 136.9 L1730.5 143.6 L1730.6 150.1 L1730.7 156.2 L1730.8 162.0 L1730.9 167.6 L1731.0 173.0 L1731.1 177.7 L1731.2 181.6 L1731.3 185.2 L1731.3 189.2 L1731.5 194.1 L1731.6 200.5 L1731.8 208.6 L1732.0 218.1 L1732.2 228.5 L1732.4 239.3 L1732.7 250.2 L1732.9 260.6 L1733.1 270.6 L1733.4 280.7 L1733.6 290.7 L1733.9 300.7 L1734.2 310.8 L1734.4 320.8 L1734.7 330.6 L1734.9 340.1 L1735.2 349.7 L1735.4 359.4 L1735.7 369.8 L1735.9 380.9 L1736.2 393.2 L1736.4 406.6 L1736.7 420.6 L1736.9 434.5 L1737.2 447.9 L1737.4 460.2 L1737.7 471.0 L1737.9 480.5 L1738.2 489.6 L1738.4 498.8 L1738.7 508.8 L1738.9 520.3 L1739.2 533.6 L1739.4 548.1 L1739.7 563.5 L1739.9 579.3 L1740.2 595.1 L1740.4 610.5 L1740.6 625.5 L1740.8 640.6 L1741.1 655.6 L1741.3 670.7 L1741.6 685.8 L1741.9 700.8 L1742.3 715.6 L1742.8 730.2 L1743.2 744.7 L1743.8 759.5 L1744.3 774.9 L1744.9 791.0 L1745.5 808.3 L1746.2 826.6 L1746.9 845.5 L1747.6 864.4 L1748.3 882.7 L1749.0 900.0 L1749.6 916.6 L1750.3 932.9 L1750.9 948.7 L1751.5 963.7 L1752.0 977.5 L1752.5 990.0 L1752.9 1001.0 L1753.2 1010.6 L1753.5 1019.2 L1753.8 1026.8 L1754.1 1033.7 L1754.3 1040.0 L1754.5 1045.5 L1754.7 1050.0 L1754.9 1053.7 L1755.0 1057.0 L1755.2 1060.1 L1755.4 1063.3 L1755.6 1066.5 L1755.8 1069.6 L1756.0 1072.4 L1756.2 1075.2 L1756.4 1078.0 L1756.6 1080.8 L1756.7 1083.7 L1756.9 1086.6 L1757.0 1089.6 L1757.0 1092.5 L1757.1 1095.4 L1757.2 1098.3 L1757.2 1101.2 L1757.3 1104.1 L1757.3 1107.0 L1757.3 1109.9 L1757.4 1112.8 L1757.4 1115.7 L1757.5 1118.5 L1757.5 1121.3 L1757.6 1124.1 L1757.7 1126.9 L1757.8 1130.0 L1757.8 1133.2 L1757.8 1136.7 L1757.8 1140.3 L1757.8 1144.1 L1757.8 1148.1 L1757.8 1152.2 L1757.8 1156.5 L1757.8 1161.4 L1757.8 1167.0 L1757.8 1172.7 L1757.8 1178.1 L1757.8 1182.7 L1757.8 1186.0" stroke="#ff0000" stroke-width="4.0" stroke-dasharray="23.0 13.4" stroke-dashoffset="21.8"/>
<path d="M1844.9 1186.0 L1844.8 1183.2 L1844.8 1179.0 L1844.7 1174.2 L1844.6 1169.4 L1844.7 1165.2 L1844.9 1162.4 L1845.3 1161.2 L1845.7 1161.1 L1846.2 1161.6 L1846.9 1162.4 L1847.8 1162.8 L1848.8 1162.4 L1850.1 1161.1 L1851.8 1159.3 L1853.6 1157.2 L1855.4 1155.0 L1857.1 1152.8 L1858.4 1150.9 L1859.3 1149.4 L1860.0 1148.3 L1860.6 1147.2 L1861.0 1145.8 L1861.5 1144.0 L1862.2 1141.3 L1863.0 1137.7 L1864.0 1133.5 L1864.9 1128.8 L1865.9 1123.6 L1866.8 1118.2 L1867.6 1112.6 L1868.3 1106.8 L1868.8 1100.5 L1869.4 1094.0 L1869.8 1087.3 L1870.3 1080.7 L1870.8 1074.2 L1871.3 1067.8 L1871.8 1061.4 L1872.2 1055.0 L1872.7 1048.7 L1873.2 1042.3 L1873.7 1035.9 L1874.3 1029.6 L1875.0 1023.4 L1875.7 1017.2 L1876.3 1010.9 L1877.0 1004.3 L1877.5 997.5 L1877.9 990.4 L1878.3 983.2 L1878.6 975.8 L1878.8 968.1 L1879.1 960.0 L1879.4 951.5 L1879.7 942.2 L1880.0 932.1 L1880.3 921.6 L1880.6 911.2 L1880.8 901.3 L1881.1 892.3 L1881.3 884.5 L1881.5 877.6 L1881.7 871.1 L1881.9 864.8 L1882.1 858.2 L1882.3 851.0 L1882.5 842.6 L1882.7 833.4 L1882.9 823.9 L1883.1 814.7 L1883.3 806.5 L1883.5 800.0 L1883.6 796.4 L1883.7 795.4 L1883.7 795.4 L1883.8 794.8 L1883.9 791.8 L1884.1 784.8 L1884.4 772.7 L1884.8 756.5 L1885.2 738.0 L1885.7 718.9 L1886.1 700.8 L1886.5 685.6 L1886.9 673.3 L1887.2 662.7 L1887.5 653.1 L1887.8 644.1 L1888.2 635.1 L1888.6 625.5 L1889.0 615.7 L1889.5 606.0 L1890.0 596.4 L1890.5 586.5 L1891.0 576.3 L1891.6 565.4 L1892.3 553.8 L1893.0 541.6 L1893.8 529.1 L1894.7 516.2 L1895.4 503.2 L1896.1 490.2 L1896.7 476.5 L1897.2 461.9 L1897.7 447.2 L1898.2 433.1 L1898.7 420.5 L1899.1 410.0 L1899.5 402.4 L1900.0 397.1 L1900.4 393.2 L1900.7 389.8 L1901.1 386.0 L1901.5 380.8 L1901.9 374.2 L1902.2 366.9 L1902.5 359.2 L1902.8 351.3 L1903.2 343.4 L1903.6 335.7 L1904.1 328.1 L1904.6 320.5 L1905.1 312.9 L1905.7 305.3 L1906.2 297.9 L1906.6 290.6 L1907.0 283.3 L1907.2 275.8 L1907.5 268.5 L1907.7 261.5 L1908.0 255.3 L1908.2 250.0 L1908.4 246.1 L1908.6 243.6 L1908.8 241.7 L1909.0 239.9 L1909.2 237.6 L1909.5 234.0 L1909.8 229.1 L1910.1 223.4 L1910.4 217.2 L1910.8 210.6 L1911.2 204.1 L1911.5 197.8 L1911.9 191.8 L1912.2 185.7 L1912.6 179.7 L1913.0 173.6 L1913.3 167.6 L1913.7 161.5 L1914.0 155.4 L1914.4 149.3 L1914.7 143.2 L1915.0 137.1 L1915.3 131.1 L1915.7 125.0 L1916.1 118.8 L1916.5 112.6 L1916.9 106.3 L1917.3 100.2 L1917.7 94.4 L1918.0 89.0 L1918.2 84.0 L1918.4 79.2 L1918.5 74.8 L1918.6 70.7 L1918.7 67.1 L1919.0 64.0 L1919.3 61.7 L1919.7 60.2 L1920.2 59.1 L1920.7 58.3 L1921.3 57.3 L1922.0 56.0 L1922.9 54.3 L1923.9 52.5 L1925.0 50.6 L1926.1 48.7 L1927.1 46.7 L1928.0 44.8 L1928.7 42.7 L1929.3 40.3 L1929.9 37.9 L1930.4 35.7 L1930.8 34.2 L1931.2 33.5 L1931.5 33.6 L1931.7 34.1 L1931.8 35.2 L1931.9 37.0 L1932.1 39.6 L1932.5 43.0 L1933.1 47.6 L1933.8 53.3 L1934.6 59.8 L1935.4 66.7 L1936.2 73.5 L1937.0 80.0 L1937.7 86.1 L1938.4 92.2 L1939.0 98.3 L1939.7 104.3 L1940.2 110.4 L1940.8 116.4 L1941.3 122.4 L1941.7 128.3 L1942.1 134.2 L1942.5 140.1 L1942.9 146.0 L1943.3 152.0 L1943.7 158.0 L1944.1 164.0 L1944.5 170.1 L1945.0 176.2 L1945.4 182.2 L1945.8 188.3 L1946.2 194.0 L1946.7 199.3 L1947.1 204.7 L1947.5 210.4 L1947.9 216.9 L1948.3 224.7 L1948.7 234.0 L1949.0 244.7 L1949.3 256.2 L1949.5 268.0 L1949.9 279.6 L1950.2 290.6 L1950.6 301.0 L1950.9 311.1 L1951.3 321.1 L1951.7 330.9 L1952.2 340.8 L1952.6 350.7 L1953.1 360.6 L1953.6 370.3 L1954.1 380.0 L1954.6 389.8 L1955.2 399.8 L1955.6 410.0 L1956.0 420.4 L1956.4 430.9 L1956.7 441.6 L1957.0 452.5 L1957.4 463.7 L1957.7 475.2 L1958.0 487.1 L1958.4 499.5 L1958.8 512.1 L1959.1 524.9 L1959.5 537.7 L1959.8 550.3 L1960.1 562.8 L1960.4 575.4 L1960.8 587.9 L1961.1 600.4 L1961.3 613.0 L1961.6 625.5 L1961.8 637.9 L1962.1 650.0 L1962.3 662.2 L1962.4 674.5 L1962.6 687.3 L1962.8 700.7 L1963.0 714.9 L1963.1 729.9 L1963.2 745.2 L1963.3 760.7 L1963.5 776.0 L1963.7 790.9 L1964.0 805.9 L1964.3 821.2 L1964.7 836.4 L1965.1 850.9 L1965.5 864.2 L1965.8 875.8 L1966.1 885.2 L1966.4 892.8 L1966.6 899.2 L1966.9 904.9 L1967.1 910.7 L1967.4 917.1 L1967.7 924.0 L1967.9 931.0 L1968.1 937.9 L1968.4 944.9 L1968.7 951.7 L1969.1 958.5 L1969.6 965.1 L1970.1 971.7 L1970.7 978.2 L1971.3 984.6 L1971.8 991.1 L1972.4 997.5 L1972.9 1004.0 L1973.3 1010.5 L1973.8 1017.0 L1974.2 1023.4 L1974.7 1029.7 L1975.3 1035.9 L1976.0 1041.9 L1976.9 1047.8 L1977.8 1053.5 L1978.6 1059.2 L1979.5 1064.8 L1980.1 1070.4 L1980.6 1075.9 L1980.9 1081.2 L1981.2 1086.5 L1981.5 1091.8 L1981.7 1097.3 L1982.0 1103.0 L1982.3 1109.1 L1982.7 1115.4 L1983.0 1121.9 L1983.3 1128.5 L1983.7 1135.0 L1984.0 1141.3 L1984.3 1147.8 L1984.7 1154.7 L1985.1 1161.4 L1985.4 1167.8 L1985.7 1173.4 L1985.9 1177.8 L1986.0 1180.9 L1986.1 1182.9 L1986.1 1184.2 L1986.0 1184.9 L1986.0 1185.4 L1986.0 1186.0" stroke="#00ff00" stroke-width="4.0" stroke-dasharray="23.0 13.4" stroke-dashoffset="32.57"/>
<path d="M1934.1 1186.0 L1934.1 1184.7 L1934.0 1183.0 L1933.9 1181.0 L1933.9 1178.7 L1933.9 1176.3 L1934.1 1174.0 L1934.4 1171.7 L1934.8 1169.2 L1935.3 1166.6 L1935.9 1164.0 L1936.4 1161.3 L1937.0 1158.6 L1937.6 1155.8 L1938.1 1153.0 L1938.7 1150.2 L1939.3 1147.3 L1940.0 1144.3 L1940.8 1141.3 L1941.7 1138.4 L1942.6 1135.6 L1943.6 1132.7 L1944.7 1129.6 L1945.7 1126.2 L1946.6 1122.2 L1947.5 1117.5 L1948.3 1112.0 L1949.1 1106.3 L1949.8 1100.4 L1950.6 1094.8 L1951.3 1089.6 L1952.0 1085.3 L1952.7 1081.5 L1953.4 1078.1 L1954.0 1074.3 L1954.6 1070.0 L1955.2 1064.6 L1955.8 1057.8 L1956.3 1050.0 L1956.8 1041.5 L1957.2 1032.8 L1957.7 1024.4 L1958.1 1016.7 L1958.5 1009.7 L1958.8 1003.2 L1959.1 996.8 L1959.4 990.7 L1959.7 984.6 L1960.0 978.4 L1960.3 972.4 L1960.5 966.6 L1960.8 960.9 L1961.1 955.0 L1961.3 948.7 L1961.6 941.9 L1961.9 934.9 L1962.2 928.0 L1962.4 920.8 L1962.7 912.7 L1963.0 903.4 L1963.3 892.3 L1963.6 878.9 L1963.9 863.4 L1964.2 846.6 L1964.5 829.3 L1964.9 812.5 L1965.2 796.9 L1965.5 782.5 L1965.9 768.6 L1966.3 755.0 L1966.6 741.8 L1967.0 728.7 L1967.3 715.7 L1967.6 702.8 L1967.8 690.2 L1968.0 677.7 L1968.3 665.3 L1968.5 653.0 L1968.8 640.5 L1969.1 628.0 L1969.5 615.5 L1969.9 603.0 L1970.3 590.4 L1970.8 577.9 L1971.2 565.4 L1971.7 552.9 L1972.2 540.5 L1972.7 528.0 L1973.2 515.5 L1973.8 502.9 L1974.3 490.2 L1974.8 477.1 L1975.3 463.7 L1975.8 450.2 L1976.3 436.9 L1976.8 424.1 L1977.3 412.0 L1977.7 400.8 L1978.2 390.3 L1978.6 380.2 L1978.9 370.4 L1979.3 360.6 L1979.7 350.7 L1980.1 340.4 L1980.4 329.9 L1980.8 319.4 L1981.1 309.1 L1981.5 299.5 L1981.8 290.6 L1982.2 282.4 L1982.5 274.6 L1982.9 267.3 L1983.3 260.7 L1983.7 254.9 L1984.0 250.0 L1984.3 246.6 L1984.5 244.6 L1984.8 243.4 L1985.0 242.4 L1985.2 240.8 L1985.5 238.0 L1985.7 233.9 L1985.9 229.1 L1986.1 223.7 L1986.4 218.0 L1986.7 212.2 L1987.2 206.5 L1987.8 200.8 L1988.6 195.0 L1989.5 189.0 L1990.5 183.0 L1991.4 177.0 L1992.2 171.0 L1993.0 165.0 L1993.7 159.0 L1994.5 153.0 L1995.2 147.0 L1996.0 141.0 L1996.7 135.0 L1997.5 128.8 L1998.2 122.4 L1999.0 116.1 L1999.8 109.9 L2000.5 104.1 L2001.2 99.0 L2001.8 94.5 L2002.4 90.3 L2002.9 86.6 L2003.4 83.3 L2004.0 80.5 L2004.5 78.0 L2005.1 76.3 L2005.7 75.6 L2006.2 75.2 L2006.8 74.8 L2007.4 73.9 L2008.0 72.0 L2008.6 68.9 L2009.1 65.0 L2009.7 60.5 L2010.2 56.0 L2010.8 51.7 L2011.5 48.0 L2012.3 44.8 L2013.1 41.6 L2014.0 38.7 L2014.9 36.3 L2015.7 34.5 L2016.3 33.5 L2016.7 33.3 L2017.0 33.7 L2017.2 34.7 L2017.4 36.4 L2017.6 38.8 L2018.0 42.0 L2018.5 46.2 L2019.2 51.3 L2019.9 57.2 L2020.6 63.5 L2021.3 69.9 L2022.0 76.0 L2022.6 82.0 L2023.2 88.0 L2023.8 94.2 L2024.4 100.4 L2025.0 106.6 L2025.6 112.7 L2026.2 118.8 L2026.8 124.8 L2027.4 130.9 L2028.0 136.9 L2028.5 143.0 L2029.0 149.0 L2029.4 155.0 L2029.8 161.0 L2030.1 167.0 L2030.3 173.0 L2030.7 179.0 L2031.0 185.0 L2031.4 190.6 L2031.8 195.8 L2032.2 200.9 L2032.7 206.5 L2033.1 213.1 L2033.5 221.0 L2033.9 230.8 L2034.3 242.1 L2034.7 254.3 L2035.1 266.9 L2035.5 279.2 L2035.9 290.6 L2036.4 301.2 L2036.9 311.3 L2037.4 321.2 L2037.9 331.0 L2038.5 340.8 L2038.9 350.7 L2039.3 360.9 L2039.7 371.2 L2040.0 381.5 L2040.3 391.6 L2040.6 401.5 L2041.0 410.9 L2041.4 419.6 L2041.8 427.7 L2042.1 435.5 L2042.5 443.3 L2043.0 451.4 L2043.4 460.1 L2043.9 469.3 L2044.4 478.8 L2044.9 488.6 L2045.4 498.7 L2045.9 509.3 L2046.4 520.3 L2046.8 532.1 L2047.3 544.8 L2047.7 557.9 L2048.1 570.9 L2048.5 583.6 L2048.8 595.4 L2049.1 606.1 L2049.3 616.0 L2049.4 625.5 L2049.6 635.0 L2049.8 644.9 L2050.0 655.6 L2050.3 667.2 L2050.6 679.4 L2050.9 692.0 L2051.2 704.8 L2051.5 717.8 L2051.8 730.7 L2052.1 743.8 L2052.3 757.3 L2052.5 770.9 L2052.7 784.3 L2052.9 797.2 L2053.2 809.5 L2053.5 820.9 L2053.8 831.5 L2054.1 841.8 L2054.5 851.8 L2054.9 862.0 L2055.3 872.6 L2055.8 883.8 L2056.4 895.5 L2056.9 907.2 L2057.6 918.8 L2058.2 929.9 L2058.7 940.0 L2059.2 949.2 L2059.8 957.8 L2060.3 965.8 L2060.8 973.4 L2061.2 980.7 L2061.6 987.9 L2061.9 994.9 L2062.1 1001.4 L2062.2 1007.7 L2062.3 1013.9 L2062.5 1020.0 L2062.6 1026.3 L2062.8 1032.7 L2062.9 1039.1 L2063.1 1045.5 L2063.2 1051.8 L2063.3 1058.2 L2063.5 1064.6 L2063.7 1071.0 L2063.8 1077.4 L2064.0 1083.8 L2064.2 1090.2 L2064.3 1096.6 L2064.5 1103.0 L2064.7 1109.5 L2064.8 1116.0 L2064.9 1122.5 L2065.1 1129.0 L2065.2 1135.2 L2065.4 1141.3 L2065.6 1147.3 L2065.8 1153.4 L2065.9 1159.3 L2066.1 1164.8 L2066.3 1169.8 L2066.4 1174.0 L2066.5 1177.3 L2066.5 1180.0 L2066.6 1182.0 L2066.6 1183.7 L2066.6 1184.9 L2066.6 1186.0" stroke="#000000" stroke-width="4.0" stroke-dasharray="23.0 13.4" stroke-dashoffset="10.06"/>
</g>
<path d="M1638.78 1187.50V1175.00M1638.78 32.50V45.00M1747.88 1187.50V1175.00M1747.88 32.50V45.00M1845.48 1187.50V1175.00M1845.48 32.50V45.00M1933.76 1187.50V1175.00M1933.76 32.50V45.00M2014.36 1187.50V1175.00M2014.36 32.50V45.00M2088.50 1187.50V1175.00M2088.50 32.50V45.00M1591.27 1187.50V1181.00M1591.27 32.50V39.00M1615.33 1187.50V1181.00M1615.33 32.50V39.00M1661.65 1187.50V1181.00M1661.65 32.50V39.00M1683.97 1187.50V1181.00M1683.97 32.50V39.00M1705.77 1187.50V1181.00M1705.77 32.50V39.00M1727.07 1187.50V1181.00M1727.07 32.50V39.00M1768.24 1187.50V1181.00M1768.24 32.50V39.00M1788.16 1187.50V1181.00M1788.16 32.50V39.00M1807.66 1187.50V1181.00M1807.66 32.50V39.00M1826.76 1187.50V1181.00M1826.76 32.50V39.00M1863.82 1187.50V1181.00M1863.82 32.50V39.00M1881.81 1187.50V1181.00M1881.81 32.50V39.00M1899.45 1187.50V1181.00M1899.45 32.50V39.00M1916.76 1187.50V1181.00M1916.76 32.50V39.00M1950.45 1187.50V1181.00M1950.45 32.50V39.00M1966.85 1187.50V1181.00M1966.85 32.50V39.00M1982.96 1187.50V1181.00M1982.96 32.50V39.00M1998.79 1187.50V1181.00M1998.79 32.50V39.00M2029.67 1187.50V1181.00M2029.67 32.50V39.00M2044.73 1187.50V1181.00M2044.73 32.50V39.00M2059.55 1187.50V1181.00M2059.55 32.50V39.00M2074.14 1187.50V1181.00M2074.14 32.50V39.00M1579.00 1187.50H1592.00M1579.00 995.00H1592.00M1579.00 802.50H1592.00M1579.00 610.00H1592.00M1579.00 417.50H1592.00M1579.00 225.00H1592.00M1579.00 32.50H1592.00M2088.50 1187.50H2075.50M2088.50 1072.00H2075.50M2088.50 956.50H2075.50M2088.50 841.00H2075.50M2088.50 725.50H2075.50M2088.50 610.00H2075.50M2088.50 494.50H2075.50M2088.50 379.00H2075.50M2088.50 263.50H2075.50M2088.50 148.00H2075.50M2088.50 32.50H2075.50" stroke="#000" stroke-width="3.5" fill="none"/>
<rect x="1579.00" y="32.50" width="509.50" height="1155.00" stroke="#000" stroke-width="3.5" fill="none"/>
<g font-family="'Liberation Sans', Arial, sans-serif" font-size="36" fill="#262626">
<text x="1563.50" y="1201.50" text-anchor="end">0.05</text>
<text transform="translate(1466.23 1202.80) scale(1.23 1)">−</text>
<text x="1563.50" y="1009.00" text-anchor="end">0.045</text>
<text transform="translate(1446.21 1010.30) scale(1.23 1)">−</text>
<text x="1563.50" y="816.50" text-anchor="end">0.04</text>
<text transform="translate(1466.23 817.80) scale(1.23 1)">−</text>
<text x="1563.50" y="624.00" text-anchor="end">0.035</text>
<text transform="translate(1446.21 625.30) scale(1.23 1)">−</text>
<text x="1563.50" y="431.50" text-anchor="end">0.03</text>
<text transform="translate(1466.23 432.80) scale(1.23 1)">−</text>
<text x="1563.50" y="239.00" text-anchor="end">0.025</text>
<text transform="translate(1446.21 240.30) scale(1.23 1)">−</text>
<text x="1563.50" y="46.50" text-anchor="end">0.02</text>
<text transform="translate(1466.23 47.80) scale(1.23 1)">−</text>
<text x="2101.50" y="1201.70">0</text>
<text x="2101.50" y="1086.20">0.1</text>
<text x="2101.50" y="970.70">0.2</text>
<text x="2101.50" y="855.20">0.3</text>
<text x="2101.50" y="739.70">0.4</text>
<text x="2101.50" y="624.20">0.5</text>
<text x="2101.50" y="508.70">0.6</text>
<text x="2101.50" y="393.20">0.7</text>
<text x="2101.50" y="277.70">0.8</text>
<text x="2101.50" y="162.20">0.9</text>
<text x="2101.50" y="46.70">1</text>
<text x="1638.78" y="1237" text-anchor="middle">8</text>
<text x="1747.88" y="1237" text-anchor="middle">9</text>
<text x="1845.48" y="1237" text-anchor="middle">10</text>
<text x="1933.76" y="1237" text-anchor="middle">11</text>
<text x="2014.36" y="1237" text-anchor="middle">12</text>
<text x="2088.50" y="1237" text-anchor="middle">13</text>
</g>
<text font-family="'Liberation Serif', 'Times New Roman', serif" font-size="53.2" fill="#000" transform="translate(52.3 610.5) rotate(-90)" text-anchor="middle">Contrast Ratio</text>
<text font-family="'Liberation Serif', 'Times New Roman', serif" font-size="53.2" fill="#000" x="1117.8" y="1298.3" text-anchor="middle">Wavelength (μm)</text>
<text font-family="'Liberation Serif', 'Times New Roman', serif" font-size="53.2" fill="#000" transform="translate(2211 610.6) rotate(-90)" text-anchor="middle">Spectral Response Function</text>
<rect x="982.3" y="62" width="364.20000000000005" height="336.7" fill="#fff" stroke="#000" stroke-width="3"/>
<path d="M993 90H1107" stroke="#0072bd" stroke-width="3.6"/>
<text x="1116" y="104.0" font-family="'Liberation Serif', 'Times New Roman', serif" font-size="37.8" fill="#000">Contrast Ratio</text>
<path d="M993 137.1H1107" stroke="#0000ff" stroke-width="3.6" stroke-dasharray="23 13"/>
<text x="1116" y="151.1" font-family="'Liberation Serif', 'Times New Roman', serif" font-size="37.8" fill="#000">B7@SRF</text>
<path d="M993 183.4H1107" stroke="#ff00ff" stroke-width="3.6" stroke-dasharray="23 13"/>
<text x="1116" y="197.4" font-family="'Liberation Serif', 'Times New Roman', serif" font-size="37.8" fill="#000">B8@SRF</text>
<path d="M993 230.8H1107" stroke="#00ffff" stroke-width="3.6" stroke-dasharray="23 13"/>
<text x="1116" y="244.8" font-family="'Liberation Serif', 'Times New Roman', serif" font-size="37.8" fill="#000">B9@SRF</text>
<path d="M993 277.3H1107" stroke="#ff0000" stroke-width="3.6" stroke-dasharray="23 13"/>
<text x="1116" y="291.3" font-family="'Liberation Serif', 'Times New Roman', serif" font-size="37.8" fill="#000">B10@SRF</text>
<path d="M993 324.7H1107" stroke="#00ff00" stroke-width="3.6" stroke-dasharray="23 13"/>
<text x="1116" y="338.7" font-family="'Liberation Serif', 'Times New Roman', serif" font-size="37.8" fill="#000">B11@SRF</text>
<path d="M993 372H1107" stroke="#000000" stroke-width="3.6" stroke-dasharray="23 13"/>
<text x="1116" y="386.0" font-family="'Liberation Serif', 'Times New Roman', serif" font-size="37.8" fill="#000">B12@SRF</text>
</svg>
</body></html>
